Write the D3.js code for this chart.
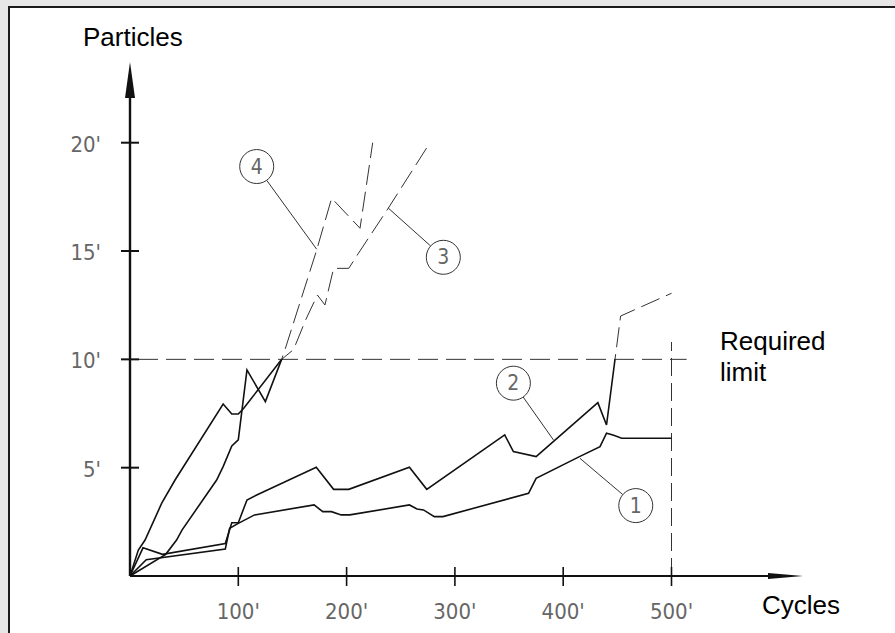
<!DOCTYPE html>
<html>
<head>
<meta charset="utf-8">
<script src="https://cdn.jsdelivr.net/npm/d3@7"></script>
<style>
  body { margin: 0; background: #e6e6e6; }
  svg { display: block; }
</style>
</head>
<body>
<div id="chart"></div>
<script>
var width = 895;
var height = 633;

// axis ticks
var xTicks = [100, 200, 300, 400, 500];
var xTickLabels = ["100'", "200'", "300'", "400'", "500'"];
var yTicks = [5, 10, 15, 20];
var yTickLabels = ["5'", "10'", "15'", "20'"];

// curves, [cycles, particles]
var series1 = [[0, 0], [15, 0.75], [88, 1.25], [92, 2.2], [100, 2.43], [115, 2.82], [170, 3.28], [178, 2.97], [186, 2.97], [195, 2.82], [203, 2.82], [258, 3.28], [265, 3.09], [271, 3.05], [281, 2.74], [289, 2.74], [368, 3.82], [375, 4.51], [415, 5.51], [434, 5.97], [440, 6.59], [446, 6.51], [454, 6.36], [500, 6.36]];
var series2 = [[0, 0], [12, 1.3], [30, 1.0], [88, 1.5], [94, 2.46], [100, 2.46], [108, 3.51], [117, 3.74], [172, 5.02], [188, 4.0], [202, 4.0], [258, 5.02], [274, 4.0], [346, 6.51], [354, 5.74], [375, 5.51], [432, 8.0], [440, 6.97], [453, 12.0], [500, 13.05]];
var series3 = [[0, 0], [33, 1.0], [43, 1.66], [48, 2.12], [80, 4.43], [86, 5.05], [94, 6.0], [100, 6.28], [108, 9.51], [125, 8.05], [140, 10.0], [151, 10.45], [162, 11.8], [173, 12.97], [180, 12.51], [188, 14.2], [202, 14.2], [211, 14.9], [238.5, 16.98], [277, 20.0]];
var series4 = [[0, 0], [7.7, 1.2], [13.9, 1.66], [29.3, 3.36], [41.6, 4.43], [86, 7.94], [94, 7.48], [100, 7.48], [105, 7.74], [140, 10.0], [143, 10.43], [172.4, 15.05], [186.2, 17.44], [212.4, 16.05], [224.1, 20.0]];
var allSeries = [series1, series2, series3, series4];

// numbered callouts: label, circle centre, point on curve
var calloutNames = ["1", "2", "3", "4"];
var calloutAt = [[467, 3.25], [354, 8.9], [289.3, 14.71], [117, 18.9]];
var calloutTarget = [[415.5, 5.43], [391, 6.28], [238.5, 16.98], [172.4, 15.08]];

var limitY = 10;
var limitX = 500;

function draw() {
  var svg = d3
    .select("#chart")
    .append("svg")
    .attr("width", width)
    .attr("height", height);

  // white sheet with dark top/left edge
  svg
    .append("rect")
    .attr("x", 8)
    .attr("y", 6)
    .attr("width", width - 8)
    .attr("height", height - 6)
    .attr("fill", "#ffffff");
  svg
    .append("path")
    .attr("d", "M9," + height + "V7H" + width)
    .attr("fill", "none")
    .attr("stroke", "#1a1a1a")
    .attr("stroke-width", 2);

  var xScale = d3.scaleLinear().domain([0, 500]).range([130, 671.5]);
  var yScale = d3.scaleLinear().domain([0, 20]).range([576, 142.7]);

  var x0 = xScale(0);
  var y0 = yScale(0);

  // limit lines
  svg
    .append("line")
    .attr("x1", x0 + 8)
    .attr("x2", xScale(514))
    .attr("y1", yScale(limitY))
    .attr("y2", yScale(limitY))
    .attr("stroke", "#333")
    .attr("stroke-width", 1)
    .attr("stroke-dasharray", "20,8");
  svg
    .append("line")
    .attr("x1", xScale(limitX))
    .attr("x2", xScale(limitX))
    .attr("y1", y0)
    .attr("y2", yScale(10.8))
    .attr("stroke", "#333")
    .attr("stroke-width", 1)
    .attr("stroke-dasharray", "18,7");

  // clip: solid below the limit, dashed above
  var defs = svg.append("defs");
  defs
    .append("clipPath")
    .attr("id", "below")
    .append("rect")
    .attr("x", 0)
    .attr("y", yScale(limitY))
    .attr("width", width)
    .attr("height", height);
  defs
    .append("clipPath")
    .attr("id", "above")
    .append("rect")
    .attr("x", 0)
    .attr("y", 0)
    .attr("width", width)
    .attr("height", yScale(limitY));

  var line = d3
    .line()
    .x(function (d) {
      return xScale(d[0]);
    })
    .y(function (d) {
      return yScale(d[1]);
    });

  svg
    .selectAll("path.solid")
    .data(allSeries)
    .enter()
    .append("path")
    .attr("class", "solid")
    .attr("d", line)
    .attr("clip-path", "url(#below)")
    .attr("fill", "none")
    .attr("stroke", "#111")
    .attr("stroke-width", 1.6)
    .attr("stroke-linejoin", "miter");

  svg
    .selectAll("path.dashed")
    .data(allSeries)
    .enter()
    .append("path")
    .attr("class", "dashed")
    .attr("d", line)
    .attr("clip-path", "url(#above)")
    .attr("fill", "none")
    .attr("stroke", "#333")
    .attr("stroke-width", 1)
    .attr("stroke-dasharray", "20,7");

  // axes
  var xAxis = d3.axisBottom(xScale).tickValues(xTicks).tickSize(0).tickFormat("");
  var yAxis = d3.axisLeft(yScale).tickValues(yTicks).tickSize(0).tickFormat("");

  svg
    .append("g")
    .attr("transform", "translate(0," + y0 + ")")
    .call(xAxis)
    .select(".domain")
    .remove();
  svg
    .append("g")
    .attr("transform", "translate(" + x0 + ",0)")
    .call(yAxis)
    .select(".domain")
    .remove();

  svg
    .append("line")
    .attr("x1", x0)
    .attr("x2", 770)
    .attr("y1", y0)
    .attr("y2", y0)
    .attr("stroke", "#111")
    .attr("stroke-width", 2);
  svg
    .append("path")
    .attr("d", "M768," + (y0 - 3) + "L803," + y0 + "L768," + (y0 + 3) + "Z")
    .attr("fill", "#111");

  svg
    .append("line")
    .attr("x1", x0)
    .attr("x2", x0)
    .attr("y1", y0)
    .attr("y2", 96)
    .attr("stroke", "#111")
    .attr("stroke-width", 2.4);
  svg
    .append("path")
    .attr("d", "M" + (x0 - 5) + ",98L" + x0 + ",62L" + (x0 + 5) + ",98Z")
    .attr("fill", "#111");

  // tick marks
  svg
    .selectAll("line.xtick")
    .data(xTicks)
    .enter()
    .append("line")
    .attr("class", "xtick")
    .attr("x1", function (d) {
      return xScale(d);
    })
    .attr("x2", function (d) {
      return xScale(d);
    })
    .attr("y1", y0 - 9)
    .attr("y2", y0 + 10)
    .attr("stroke", "#111")
    .attr("stroke-width", 1.6);

  svg
    .selectAll("line.ytick")
    .data(yTicks)
    .enter()
    .append("line")
    .attr("class", "ytick")
    .attr("x1", x0 - 9)
    .attr("x2", x0 + 9)
    .attr("y1", function (d) {
      return yScale(d);
    })
    .attr("y2", function (d) {
      return yScale(d);
    })
    .attr("stroke", "#111")
    .attr("stroke-width", 2);

  var tickFont = "'Liberation Sans Narrow', 'DejaVu Sans Condensed', sans-serif";

  svg
    .selectAll("text.xlabel")
    .data(xTicks)
    .enter()
    .append("text")
    .attr("class", "xlabel")
    .text(function (d, i) {
      return xTickLabels[i];
    })
    .attr("x", function (d) {
      return xScale(d);
    })
    .attr("y", 619)
    .attr("text-anchor", "middle")
    .attr("font-family", tickFont)
    .attr("font-size", "22px")
    .attr("fill", "#666");

  svg
    .selectAll("text.ylabel")
    .data(yTicks)
    .enter()
    .append("text")
    .attr("class", "ylabel")
    .text(function (d, i) {
      return yTickLabels[i];
    })
    .attr("x", 101)
    .attr("y", function (d) {
      return yScale(d) + 9;
    })
    .attr("text-anchor", "end")
    .attr("font-family", tickFont)
    .attr("font-size", "22px")
    .attr("fill", "#666");

  // axis titles
  var titleFont = "'Liberation Sans', Arial, sans-serif";
  svg
    .append("text")
    .text("Particles")
    .attr("x", 83)
    .attr("y", 46)
    .attr("font-family", titleFont)
    .attr("font-size", "26px")
    .attr("fill", "#000");
  svg
    .append("text")
    .text("Cycles")
    .attr("x", 762)
    .attr("y", 614)
    .attr("font-family", titleFont)
    .attr("font-size", "26px")
    .attr("fill", "#000");
  var req = svg
    .append("text")
    .attr("font-family", titleFont)
    .attr("font-size", "26px")
    .attr("fill", "#000");
  req.append("tspan").attr("x", 720).attr("y", 350).text("Required");
  req.append("tspan").attr("x", 720).attr("y", 381).text("limit");

  // callouts
  var r = 17;
  var callouts = svg
    .selectAll("g.callout")
    .data(calloutNames)
    .enter()
    .append("g")
    .attr("class", "callout");

  callouts
    .append("line")
    .attr("x1", function (d, i) {
      var cx = xScale(calloutAt[i][0]);
      var cy = yScale(calloutAt[i][1]);
      var tx = xScale(calloutTarget[i][0]);
      var ty = yScale(calloutTarget[i][1]);
      var len = Math.hypot(tx - cx, ty - cy);
      return cx + ((tx - cx) / len) * r;
    })
    .attr("y1", function (d, i) {
      var cx = xScale(calloutAt[i][0]);
      var cy = yScale(calloutAt[i][1]);
      var tx = xScale(calloutTarget[i][0]);
      var ty = yScale(calloutTarget[i][1]);
      var len = Math.hypot(tx - cx, ty - cy);
      return cy + ((ty - cy) / len) * r;
    })
    .attr("x2", function (d, i) {
      return xScale(calloutTarget[i][0]);
    })
    .attr("y2", function (d, i) {
      return yScale(calloutTarget[i][1]);
    })
    .attr("stroke", "#333")
    .attr("stroke-width", 1);

  callouts
    .append("circle")
    .attr("cx", function (d, i) {
      return xScale(calloutAt[i][0]);
    })
    .attr("cy", function (d, i) {
      return yScale(calloutAt[i][1]);
    })
    .attr("r", r)
    .attr("fill", "#fff")
    .attr("stroke", "#333")
    .attr("stroke-width", 1);

  callouts
    .append("text")
    .text(function (d) {
      return d;
    })
    .attr("x", function (d, i) {
      return xScale(calloutAt[i][0]);
    })
    .attr("y", function (d, i) {
      return yScale(calloutAt[i][1]) + 7;
    })
    .attr("text-anchor", "middle")
    .attr("font-family", tickFont)
    .attr("font-size", "21px")
    .attr("fill", "#666");
}

draw();
</script>
</body>
</html>
